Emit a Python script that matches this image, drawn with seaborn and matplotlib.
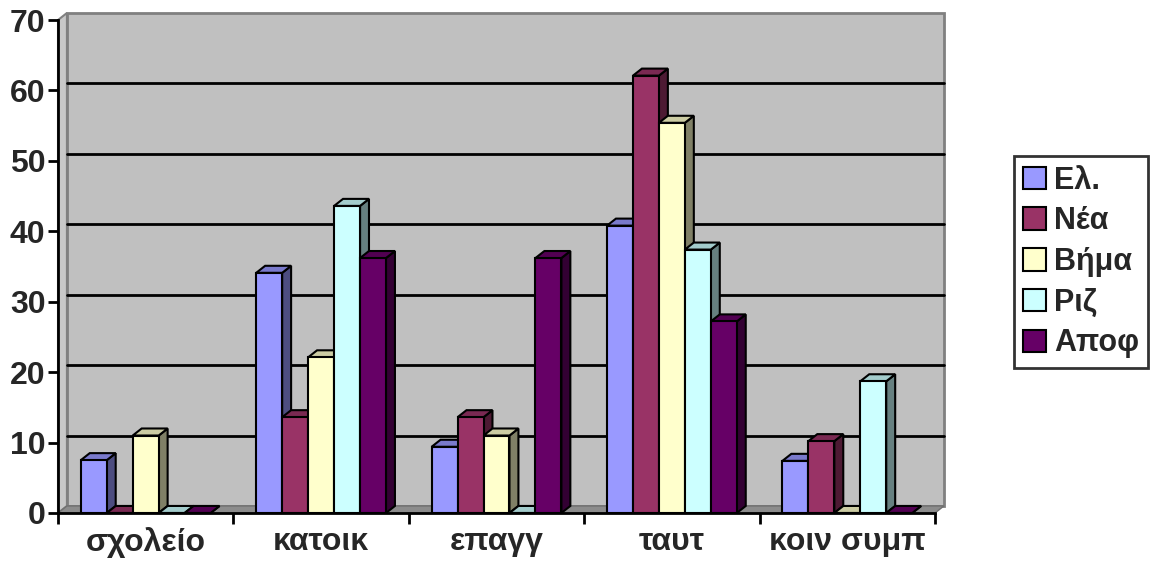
import matplotlib
matplotlib.use("Agg")
import matplotlib.pyplot as plt
from matplotlib.patches import Polygon, Rectangle
from matplotlib.colors import to_rgb
import numpy as np
import pandas as pd
import seaborn as sns

categories = ['σχολείο', 'κατοικ', 'επαγγ', 'ταυτ', 'κοιν συμπ']
series = ['Ελ.', 'Νέα', 'Βήμα', 'Ριζ', 'Αποφ']
el = [7.5, 34.1, 9.4, 40.8, 7.4]
nea = [0, 13.6, 13.6, 62.1, 10.2]
vima = [11.0, 22.1, 11.0, 55.4, 0]
riz = [0, 43.6, 0, 37.4, 18.7]
apof = [0, 36.2, 36.2, 27.2, 0]
colors = ['#9999FF', '#993366', '#FFFFCC', '#CCFFFF', '#660066']
yticks = [0, 10, 20, 30, 40, 50, 60, 70]

rows = []
for s, vals in zip(series, [el, nea, vima, riz, apof]):
    for c, v in zip(categories, vals):
        rows.append({'cat': c, 'series': s, 'value': v})
df = pd.DataFrame(rows)

sns.set_style('white')
plt.rcParams['font.family'] = ['Liberation Sans', 'DejaVu Sans']
plt.rcParams['font.weight'] = 'bold'

fig = plt.figure(figsize=(11.6, 5.68), dpi=100)
ax = fig.add_axes([58 / 1160, 55 / 568, (935 - 58) / 1160, (513 - 20) / 568])

sns.barplot(data=df, x='cat', y='value', hue='series', order=categories,
            hue_order=series, palette=colors, width=0.74, saturation=1,
            edgecolor='black', linewidth=1.5, legend=False, ax=ax, zorder=5)

xmin, xmax = -0.5, len(categories) - 0.5
ymax = 70
dx, dy = 0.051, 1.0
ax.set_xlim(xmin, xmax)
ax.set_ylim(0, ymax)

# back wall, side wall, floor
wall = Rectangle((xmin + dx, dy), xmax - xmin, ymax, facecolor='#C0C0C0',
                 edgecolor='#808080', lw=2, zorder=0, clip_on=False)
ax.add_patch(wall)
side = Polygon([(xmin, 0), (xmin + dx, dy), (xmin + dx, ymax + dy), (xmin, ymax)],
               closed=True, facecolor='#C8C8C8', edgecolor='#808080', lw=1.5,
               zorder=0.5, clip_on=False)
ax.add_patch(side)
floor = Polygon([(xmin, 0), (xmax, 0), (xmax + dx, dy), (xmin + dx, dy)],
                closed=True, facecolor='#8C8C8C', edgecolor='#707070', lw=1,
                zorder=0.6, clip_on=False)
ax.add_patch(floor)
for t in yticks[1:-1]:
    ax.plot([xmin + dx, xmax + dx], [t + dy, t + dy], color='black', lw=2,
            zorder=1, clip_on=False)

# 3D faces for bars
def shade(c, f):
    r, g, b = to_rgb(c)
    return (r * f, g * f, b * f)

bars = [p for p in ax.patches if isinstance(p, Rectangle) and p is not wall]
for p in bars:
    x0, w, h = p.get_x(), p.get_width(), p.get_height()
    fc = p.get_facecolor()
    sidep = Polygon([(x0 + w, 0), (x0 + w + dx, dy), (x0 + w + dx, h + dy), (x0 + w, h)],
                    closed=True, facecolor=shade(fc, 0.5), edgecolor='black',
                    lw=1.5, zorder=3, clip_on=False)
    top = Polygon([(x0, h), (x0 + w, h), (x0 + w + dx, h + dy), (x0 + dx, h + dy)],
                  closed=True, facecolor=shade(fc, 0.8), edgecolor='black',
                  lw=1.5, zorder=3, clip_on=False)
    ax.add_patch(sidep)
    ax.add_patch(top)
    p.set_zorder(5)

for sp in ['top', 'right']:
    ax.spines[sp].set_visible(False)
for sp in ['left', 'bottom']:
    ax.spines[sp].set_color('black')
    ax.spines[sp].set_linewidth(2)
    ax.spines[sp].set_zorder(6)

ax.set_yticks(yticks)
ax.set_yticklabels([str(t) for t in yticks], fontsize=23, fontweight='heavy')
ax.tick_params(axis='y', length=7, width=2, color='black', left=True, pad=2)
ax.set_xticks(range(len(categories)))
ax.set_xticklabels(categories, fontsize=23, fontweight='heavy')
ax.tick_params(axis='x', which='major', length=0, pad=10)
ax.set_xticks(np.arange(xmin, xmax + 0.01, 1.0), minor=True)
ax.tick_params(axis='x', which='minor', length=8, width=2, color='black', bottom=True)
ax.set_xlabel('')
ax.set_ylabel('')
ax.grid(False)

handles = [Rectangle((0, 0), 1, 1, facecolor=c, edgecolor='black', lw=1.5) for c in colors]
leg = fig.legend(handles, series, loc='center',
                 bbox_to_anchor=(1081 / 1160, 1 - 262 / 568),
                 prop={'size': 22, 'weight': 'heavy'}, frameon=True, fancybox=False,
                 edgecolor='black', handlelength=0.75, handleheight=0.75,
                 handletextpad=0.25, labelspacing=0.35, borderpad=0.3,
                 borderaxespad=0)
leg.get_frame().set_linewidth(2)

fig.savefig('out.png', dpi=100, facecolor='white')
